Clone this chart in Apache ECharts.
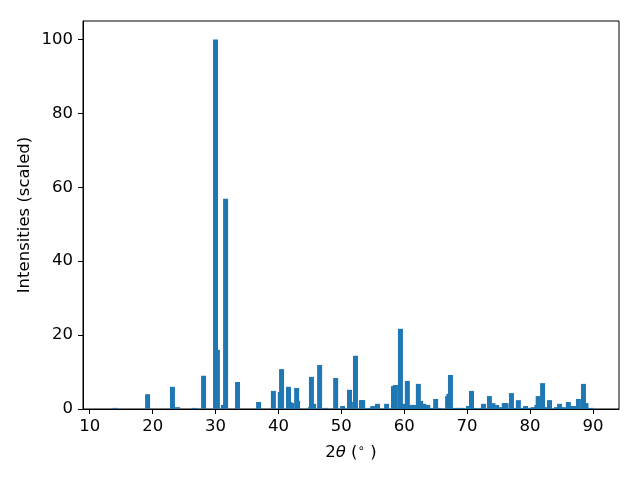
<!DOCTYPE html>
<html>
<head>
<meta charset="utf-8">
<script src="https://cdn.jsdelivr.net/npm/echarts@6/dist/echarts.min.js"></script>
<style>html,body{margin:0;padding:0;background:#fff}#c{width:640px;height:480px}</style>
</head>
<body>
<div id="c"></div>
<script>
var angles = [14.0,19.2,23.15,23.95,26.65,28.1,30.0,30.3,31.25,31.6,33.5,36.85,39.2,40.3,40.5,41.6,41.8,42.1,42.9,43.05,45.1,45.25,45.6,46.55,47.5,49.1,50.2,51.3,51.45,52.25,53.2,53.4,54.4,55.0,55.75,57.2,58.3,58.6,59.4,59.75,60.5,61.1,61.5,62.25,62.6,63.1,63.75,64.2,65.0,65.5,66.9,67.1,67.35,67.9,68.6,69.2,70.2,70.7,71.2,72.3,72.6,73.55,74.1,74.7,75.3,75.9,76.2,77.05,77.5,78.15,78.6,79.3,79.8,80.5,81.1,81.3,82.0,82.4,83.1,84.2,84.7,85.3,86.1,86.6,87.2,87.7,88.5,88.9,89.7];
var intensities = [0.3,4.0,6.0,0.5,0.3,9.0,100,16.0,1.1,56.9,7.3,1.9,4.9,4.6,10.8,6.0,1.9,1.6,5.7,2.2,0.5,8.7,1.4,11.9,0.3,8.4,0.8,5.2,1.9,14.4,2.4,2.4,0.3,0.8,1.4,1.4,6.2,6.5,21.7,1.4,7.6,1.1,1.1,6.8,2.2,1.4,1.1,0.3,2.7,0.3,3.5,4.1,9.2,0.3,0.3,0.3,0.8,4.9,0.3,0.3,1.4,3.5,1.6,1.1,0.5,1.6,1.6,4.3,0.3,2.4,0.3,0.8,0.3,0.5,1.1,3.5,7.0,0.5,2.4,0.5,1.4,0.5,1.9,0.8,0.8,2.7,6.8,1.6,0.3];
var xTicks = [10,20,30,40,50,60,70,80,90];
var yTicks = [0,20,40,60,80,100];
var yTitle = 'Intensities (scaled)';

var data = angles.map(function(a,i){return [a,intensities[i]];});
var font = 'DejaVu Sans';
var fs = 16.5;
var chart = echarts.init(document.getElementById('c'), null, {renderer:'canvas'});
chart.setOption({
  animation:false,
  grid:{left:83,right:21,top:21,bottom:71,show:true,borderColor:'#000',borderWidth:1,backgroundColor:'transparent'},
  xAxis:{
    type:'value',min:8.93,max:94.15,
    name:'{a|2}{b|θ}{a| (}{c|∘}{a| )}',
    nameLocation:'middle',nameGap:34,nameMoveOverlap:false,
    nameTextStyle:{rich:{a:{fontFamily:font,fontSize:fs,color:'#000'},b:{fontFamily:font,fontSize:fs,fontStyle:'italic',color:'#000'},c:{fontFamily:font,fontSize:12,color:'#000',verticalAlign:'top',padding:[0,0,8,0]}}},
    axisLine:{show:true,onZero:false,lineStyle:{color:'#000',width:1}},
    axisTick:{show:true,inside:false,length:5,customValues:xTicks,lineStyle:{color:'#000'}},
    axisLabel:{customValues:xTicks,fontFamily:font,fontSize:fs,color:'#000',margin:9},
    splitLine:{show:false}
  },
  yAxis:{
    type:'value',min:0,max:105,
    name:yTitle,nameLocation:'middle',nameGap:50,nameMoveOverlap:false,
    nameTextStyle:{fontFamily:font,fontSize:fs,color:'#000'},
    axisLine:{show:true,lineStyle:{color:'#000',width:1}},
    axisTick:{show:true,inside:false,length:5,customValues:yTicks,lineStyle:{color:'#000'}},
    axisLabel:{customValues:yTicks,fontFamily:font,fontSize:fs,color:'#000',margin:10},
    splitLine:{show:false}
  },
  series:[{
    type:'bar',data:data,barWidth:5,
    itemStyle:{color:'#1f77b4'}
  }]
});
</script>
</body>
</html>
